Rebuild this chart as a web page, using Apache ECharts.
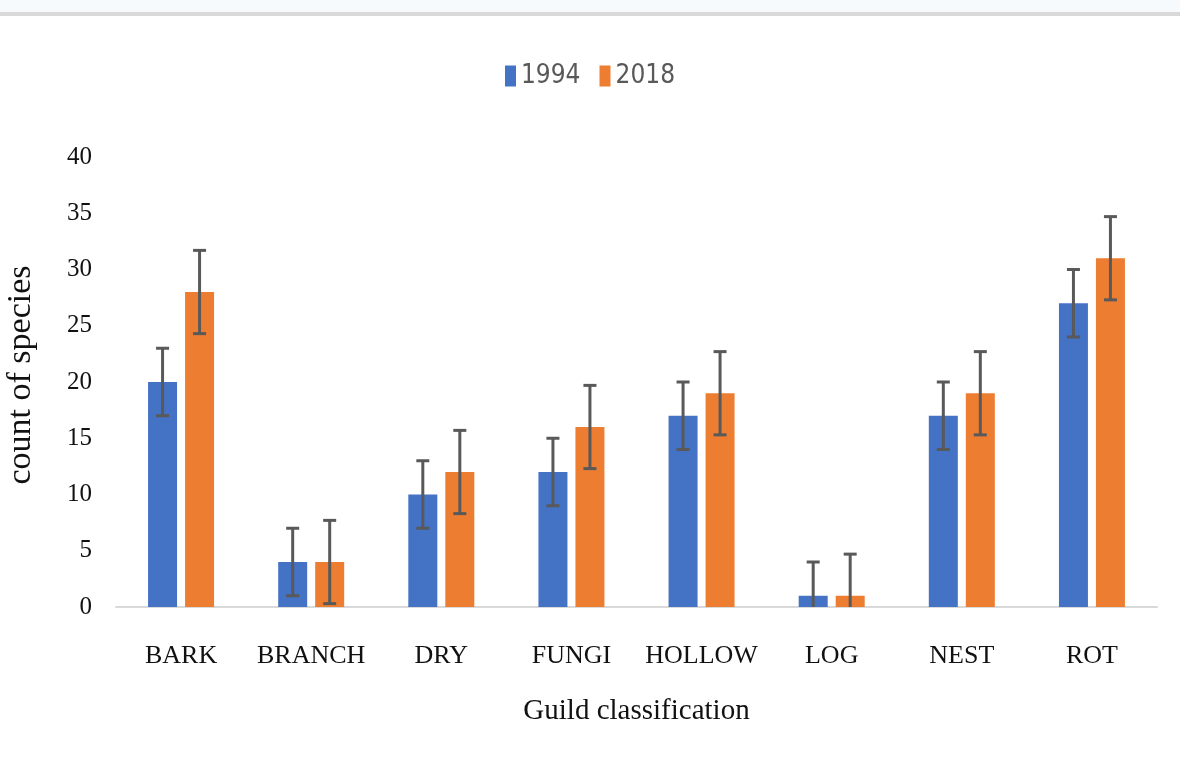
<!DOCTYPE html>
<html>
<head>
<meta charset="utf-8">
<title>Guild classification</title>
<script src="https://cdn.jsdelivr.net/npm/echarts@6/dist/echarts.min.js"></script>
<style>
  html, body { margin: 0; padding: 0; background: #fff; }
  #chart { width: 1180px; height: 765px; }
</style>
</head>
<body>
<div id="chart"></div>
<script>
const categories = ['BARK', 'BRANCH', 'DRY', 'FUNGI', 'HOLLOW', 'LOG', 'NEST', 'ROT']
const values1994 = [20, 4, 10, 12, 17, 1, 17, 27]
const values2018 = [28, 4, 12, 16, 19, 1, 19, 31]
const err1994 = [3, 3, 3, 3, 3, 3, 3, 3]
const err2018 = [3.7, 3.7, 3.7, 3.7, 3.7, 3.7, 3.7, 3.7]
const yTicks = [0, 5, 10, 15, 20, 25, 30, 35, 40]

const BAR_W = 29
const BAR_GAP = 8
const serif = '"Liberation Serif", "Times New Roman", serif'
const narrow = '"Liberation Sans Narrow", "DejaVu Sans Condensed", "Liberation Sans", sans-serif'

function errData(vals, errs) {
  return vals.map((v, i) => [i, v - errs[i], v + errs[i]])
}

// error whiskers, the part below the axis is cut off like in the original
function errRender(shift) {
  return function (params, api) {
    const lo = api.coord([api.value(0), api.value(1)])
    const hi = api.coord([api.value(0), api.value(2)])
    const x = lo[0] + shift
    const cap = 6.5
    const style = { stroke: '#595959', lineWidth: 3 }
    return {
      type: 'group',
      children: [
        { type: 'line', shape: { x1: x, y1: hi[1], x2: x, y2: lo[1] }, style },
        { type: 'line', shape: { x1: x - cap, y1: hi[1], x2: x + cap, y2: hi[1] }, style },
        { type: 'line', shape: { x1: x - cap, y1: lo[1], x2: x + cap, y2: lo[1] }, style }
      ]
    }
  }
}

const chart = echarts.init(document.getElementById('chart'))
chart.setOption({
  animation: false,
  backgroundColor: '#fff',
  graphic: [
    { type: 'rect', left: 0, top: 0, shape: { width: 1180, height: 13 }, style: { fill: '#f6fafc' }, silent: true },
    { type: 'rect', left: 0, top: 12, shape: { width: 1180, height: 4 }, style: { fill: '#d9d9d9' }, silent: true }
  ],
  legend: {
    top: 58,
    left: 'center',
    icon: 'rect',
    itemWidth: 11,
    itemHeight: 21,
    itemGap: 19,
    data: ['1994', '2018'],
    textStyle: { fontFamily: narrow, fontSize: 26, color: '#595959' }
  },
  grid: { left: 116, right: 23, top: 157, bottom: 158, outerBoundsMode: 'none' },
  xAxis: {
    type: 'category',
    data: categories,
    axisLine: { lineStyle: { color: '#d9d9d9', width: 2 } },
    axisTick: { show: false },
    axisLabel: { interval: 0, fontFamily: serif, fontSize: 26, color: '#111', margin: 36 },
    name: 'Guild classification',
    nameLocation: 'middle',
    nameGap: 90,
    nameTextStyle: { fontFamily: serif, fontSize: 29, color: '#111' }
  },
  yAxis: {
    type: 'value',
    min: yTicks[0],
    max: yTicks[yTicks.length - 1],
    interval: 5,
    axisLine: { show: false },
    axisTick: { show: false },
    splitLine: { show: false },
    axisLabel: { fontFamily: serif, fontSize: 25, color: '#111', margin: 24 },
    name: 'count of species',
    nameLocation: 'middle',
    nameGap: 78,
    nameTextStyle: { fontFamily: serif, fontSize: 34, color: '#111', padding: [0, 0, 0, 14] }
  },
  series: [
    {
      name: '1994',
      type: 'bar',
      data: values1994,
      barWidth: BAR_W,
      barGap: (BAR_GAP / BAR_W * 100) + '%',
      itemStyle: { color: '#4472C4' }
    },
    {
      name: '2018',
      type: 'bar',
      data: values2018,
      barWidth: BAR_W,
      itemStyle: { color: '#ED7D31' }
    },
    {
      type: 'custom',
      renderItem: errRender(-(BAR_W + BAR_GAP) / 2),
      data: errData(values1994, err1994),
      encode: { x: 0, y: [1, 2] },
      clip: true,
      z: 5
    },
    {
      type: 'custom',
      renderItem: errRender((BAR_W + BAR_GAP) / 2),
      data: errData(values2018, err2018),
      encode: { x: 0, y: [1, 2] },
      clip: true,
      z: 5
    }
  ]
})
</script>
</body>
</html>
